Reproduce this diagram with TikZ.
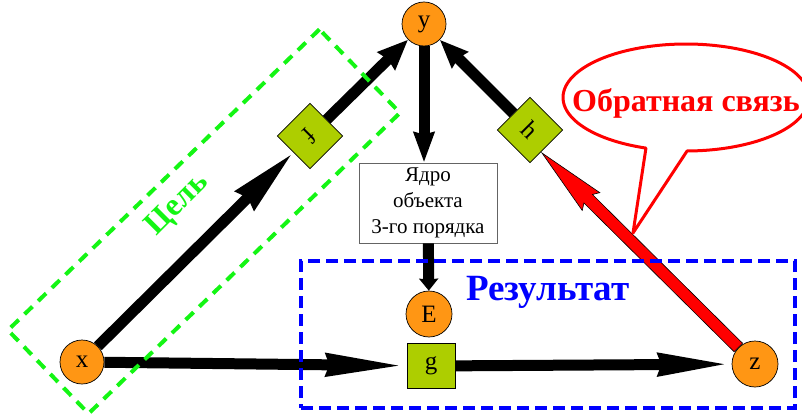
\documentclass[tikz,border=0pt]{standalone}
\usepackage{fontspec}
\setmainfont{Liberation Serif}
\usetikzlibrary{arrows.meta,calc}

\definecolor{varorange}{RGB}{255,150,20}
\definecolor{opgreen}{RGB}{173,206,0}
\definecolor{goalgreen}{RGB}{20,245,20}
\definecolor{resblue}{RGB}{0,0,255}
\definecolor{boxgray}{RGB}{100,100,100}

\begin{document}
\begin{tikzpicture}[x=1pt,y=-1pt,
  var/.style={circle, draw=black, line width=0.7pt, fill=varorange,
    minimum size=44pt, inner sep=0pt, font=\fontsize{25}{25}\selectfont},
  op/.style={rectangle, draw=black, line width=0.7pt, fill=opgreen,
    minimum width=46pt, minimum height=46pt, inner sep=0pt,
    font=\fontsize{25}{25}\selectfont},
  flow/.style={line width=11pt, draw=black},
  frame/.style={line width=4pt, inner sep=0pt, fill=none},
]
\useasboundingbox (0,0) rectangle (802,414);
\clip (0,0) rectangle (802,414);

% variables and operators
\node[var] (y) at (424,24) {y};
\node[var] (x) at (82,362) {x};
\node[var, minimum size=46pt] (z) at (755,364) {z};
\node[var, minimum size=46pt] (E) at (429,314) {E};
\node[op, minimum width=48pt, minimum height=45pt] (g) at (431,366) {g};
\node[op, rotate=-135] (f) at (310,136) {f};
\node[op, rotate=-45] (h) at (530,130) {h};
\node[draw=boxgray, fill=white, line width=0.8pt, minimum width=138pt,
  minimum height=80pt, inner sep=2pt, align=center,
  font=\fontsize{21}{26}\selectfont] (core) at (428,203)
  {Ядро\\объекта\\3-го порядка};

% black flows
\draw[flow, -{Stealth[length=67pt,width=25pt,inset=3pt]}] (x) -- (f);
\draw[flow, -{Stealth[length=30pt,width=24pt,inset=2pt]}] (f) -- (y);
\draw[flow, -{Stealth[length=79pt,width=21pt,inset=2pt]}] (x) -- (g);
\draw[flow, -{Stealth[length=72pt,width=21pt,inset=2pt]}] (g) -- (z);
\draw[flow, -{Stealth[length=30pt,width=20pt,inset=2pt]}] (y) -- (y |- core.north);
\draw[flow, -{Stealth[length=12pt,width=19pt,inset=1pt]}] (core) -- (E);
\draw[flow, -{Stealth[length=28pt,width=22pt,inset=2pt]}] (h) -- (y);

% red feedback arrow, outlined
\coordinate (htip) at ($(h.center)+(12,23)$);
\coordinate (zs) at ($(z.center)!23.5pt!(htip)$);
\coordinate (hb) at ($(htip)!65pt!(zs)$);
\coordinate (hc) at ($(htip)!69pt!(zs)$);
\filldraw[fill=red, draw=black, line width=0.6pt, line join=miter]
  ($(zs)!6pt!90:(htip)$) -- ($(hb)!6pt!90:(htip)$) -- ($(hc)!12.5pt!90:(htip)$)
  -- (htip) -- ($(hc)!12.5pt!-90:(htip)$) -- ($(hb)!6pt!-90:(htip)$)
  -- ($(zs)!6pt!-90:(htip)$) -- cycle;

% callout
\filldraw[draw=red, fill=white, line width=3pt, line join=round]
  plot[domain=109:449.5, samples=120, smooth]
    ({686+123*cos(\x)}, {97.5+53.5*sin(\x)}) -- (633,233) -- cycle;
\node[text=red, anchor=base west, inner sep=0pt,
  font=\bfseries\fontsize{32}{32}\selectfont] (fbtext) at (572,111.5)
  {Обратная связь};

% goal and result frames
\node[frame, draw=goalgreen, dash pattern=on 11pt off 8pt, rotate=44,
  minimum width=433pt, minimum height=116pt] (goal) at (204,221.5) {};
\node[text=goalgreen, rotate=45, inner sep=0pt,
  font=\bfseries\fontsize{32}{32}\selectfont] (goaltext) at (178,205) {Цель};
\node[frame, draw=resblue, dash pattern=on 12pt off 6pt,
  minimum width=494pt, minimum height=147pt] (result) at (548,334.5) {};
\node[text=resblue, anchor=base west, inner sep=0pt,
  font=\bfseries\fontsize{37}{37}\selectfont] (restext) at (466,300) {Результат};
\end{tikzpicture}
\end{document}
